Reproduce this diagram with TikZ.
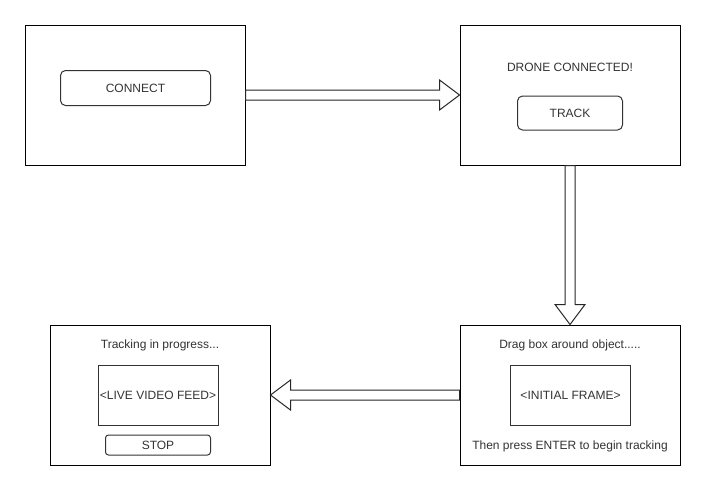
\documentclass[tikz,border=0pt]{standalone}
\usepackage{fontspec}
\setmainfont{Liberation Sans}
\usetikzlibrary{calc}
\definecolor{txt}{HTML}{333333}
\begin{document}
\begin{tikzpicture}[x=1pt,y=-1pt,
  screen/.style={draw=black,line width=1pt,minimum width=220pt,minimum height=140pt,inner sep=0pt,fill=white},
  btn/.style={draw=black!80,line width=1pt,rounded corners=5pt,inner sep=0pt,text=txt},
  frame/.style={draw=black!80,line width=1pt,inner sep=0pt,text=txt},
  lbl/.style={text=txt,inner sep=0pt},
  bigarrow/.style={draw=black!85,line width=1pt,fill=white,line join=miter},
  every node/.style={font=\fontsize{12}{14}\selectfont}]
\useasboundingbox (0,0) rectangle (706,491);
% screens
\node[screen] (s1) at (135,95) {};
\node[screen] (s2) at (570,95) {};
\node[screen] (s3) at (570,395) {};
\node[screen] (s4) at (160,395) {};
% screen 1
\node[btn,minimum width=150pt,minimum height=35pt] (connect) at (135.5,88) {CONNECT};
% screen 2
\node[lbl] (drone) at (570,67) {DRONE CONNECTED!};
\node[btn,minimum width=105pt,minimum height=34pt] (track) at (570,113) {TRACK};
% screen 3
\node[lbl] (drag) at (570,345) {Drag box around object.....};
\node[frame,minimum width=120pt,minimum height=60pt] (init) at (570.5,395) {<INITIAL FRAME>};
\node[lbl] (enter) at (570,446) {Then press ENTER to begin tracking};
% screen 4
\node[lbl] (prog) at (160,345) {Tracking in progress...};
\node[frame,minimum width=120pt,minimum height=60pt] (live) at (158,395) {<LIVE VIDEO FEED>};
\node[btn,minimum width=105pt,minimum height=20pt,rounded corners=3pt] (stop) at (158,445) {STOP};
% arrows
\draw[bigarrow] (s1.east) ++(0,-5) -- ($(s2.west)+(-20,-5)$) -- ++(0,-10) -- (s2.west)
  -- ($(s2.west)+(-20,15)$) -- ++(0,-10) -- ($(s1.east)+(0,5)$) -- cycle;
\draw[bigarrow] (s2.south) ++(-5,0) -- ($(s3.north)+(-5,-20)$) -- ++(-10,0) -- (s3.north)
  -- ($(s3.north)+(15,-20)$) -- ++(-10,0) -- ($(s2.south)+(5,0)$) -- cycle;
\draw[bigarrow] (s3.west) ++(0,-5) -- ($(s4.east)+(20,-5)$) -- ++(0,-10) -- (s4.east)
  -- ($(s4.east)+(20,15)$) -- ++(0,-10) -- ($(s3.west)+(0,5)$) -- cycle;
\end{tikzpicture}
\end{document}
